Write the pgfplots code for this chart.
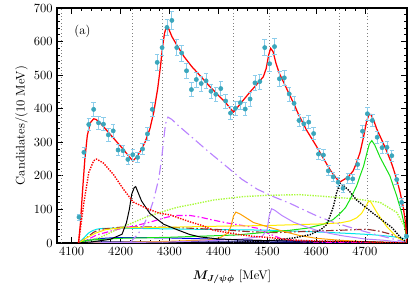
\documentclass[border=0pt]{standalone}
\usepackage{pgfplots}
\pgfplotsset{compat=1.18}
\usepackage{bm}
\definecolor{dataC}{RGB}{58,166,188}
\definecolor{errC}{RGB}{140,205,235}
\definecolor{cGreen}{RGB}{20,225,20}
\definecolor{cYellow}{RGB}{255,235,0}
\definecolor{cCyan}{RGB}{0,230,235}
\definecolor{cMag}{RGB}{255,0,255}
\definecolor{cChart}{RGB}{170,250,60}
\definecolor{cLav}{RGB}{185,130,255}
\definecolor{cOrange}{RGB}{255,160,0}
\definecolor{cBrown}{RGB}{150,45,45}
\definecolor{cBlue}{RGB}{0,0,235}
\definecolor{cNavy}{RGB}{0,0,110}
\begin{document}
\begin{tikzpicture}
\begin{axis}[
  scale only axis, width=280pt, height=188pt,
  xmin=4070, xmax=4786, ymin=0, ymax=700,
  axis line style={line width=1.1pt},
  tick align=inside,
  xtick={4100,4200,...,4700}, ytick={0,100,...,700},
  minor x tick num=4, minor y tick num=4,
  major tick length=4.5pt, minor tick length=2.2pt,
  tick style={black, line width=0.6pt},
  /pgf/number format/1000 sep={},
  scaled ticks=false,
  xlabel={$\bm{M_{J/\psi\phi}}$ [MeV]},
  ylabel={Candidates/(10 MeV)},
  xlabel style={yshift=-5pt},
  ylabel style={yshift=-2pt},
  clip=true,
]
% threshold lines
\addplot[gray, dotted, line width=0.7pt] coordinates {(4080,0) (4080,700)};
\addplot[gray, dotted, line width=0.7pt] coordinates {(4224,0) (4224,700)};
\addplot[gray, dotted, line width=0.7pt] coordinates {(4286,0) (4286,700)};
\addplot[gray, dotted, line width=0.7pt] coordinates {(4430,0) (4430,700)};
\addplot[gray, dotted, line width=0.7pt] coordinates {(4504,0) (4504,700)};
\addplot[gray, dotted, line width=0.7pt] coordinates {(4647,0) (4647,700)};
\addplot[gray, dotted, line width=0.7pt] coordinates {(4705,0) (4705,700)};
% navy
\addplot[cNavy, line width=0.8pt] coordinates {(4114,0) (4150,3) (4300,4) (4500,3) (4786,1)};
% blue
\addplot[cBlue, line width=0.8pt, smooth] coordinates {(4114,0) (4130,6) (4150,12) (4200,16) (4300,15) (4400,11) (4500,7) (4600,4) (4700,2) (4786,0)};
% cyan
\addplot[cCyan, line width=0.8pt, smooth] coordinates {(4114,0) (4125,15) (4135,30) (4145,38) (4160,43) (4200,44) (4300,42) (4400,40) (4500,38) (4600,33) (4700,26) (4750,20) (4786,12)};
% brown dash-dot
\addplot[cBrown, line width=0.9pt, dash pattern=on 6pt off 2pt on 1.2pt off 2pt] coordinates {(4114,0) (4130,15) (4145,32) (4160,41) (4200,47) (4250,48) (4300,47) (4400,40) (4472,33) (4520,31) (4588,35) (4650,38) (4704,41) (4730,35) (4751,27) (4770,15) (4786,0)};
% magenta dash-dot
\addplot[cMag, line width=0.9pt, dash pattern=on 5pt off 2pt on 1.2pt off 2pt] coordinates {(4114,0) (4130,8) (4151,24) (4192,40) (4226,50) (4260,62) (4290,75) (4310,82) (4342,82) (4363,77) (4390,68) (4417,60) (4458,50) (4480,44) (4500,30) (4530,12) (4570,4) (4650,1) (4786,0)};
% chartreuse dotted
\addplot[cChart, line width=1.1pt, densely dotted] coordinates {(4114,0) (4158,16) (4192,40) (4226,61) (4250,76) (4281,91) (4315,106) (4350,116) (4390,128) (4450,138) (4500,142) (4567,144) (4615,139) (4683,131) (4731,121) (4765,91) (4782,46) (4786,0)};
% green solid
\addplot[cGreen, line width=0.8pt] coordinates {(4114,0) (4130,8) (4200,14) (4300,17) (4400,22) (4438,24) (4499,32) (4547,38) (4581,44) (4615,56) (4635,70) (4649,88) (4660,105) (4670,131) (4683,170) (4690,200) (4697,228) (4704,268) (4709,295) (4714,305) (4720,292) (4731,255) (4751,200) (4765,140) (4775,90) (4782,45) (4786,0)};
% yellow
\addplot[cYellow, line width=0.8pt] coordinates {(4114,0) (4130,15) (4150,30) (4170,40) (4200,45) (4300,47) (4400,50) (4500,52) (4567,55) (4615,57) (4650,60) (4670,66) (4683,75) (4693,88) (4700,105) (4708,125) (4712,122) (4724,92) (4735,68) (4745,48) (4765,18) (4786,0)};
% orange
\addplot[cOrange, line width=0.8pt] coordinates {(4114,0) (4200,2) (4300,5) (4380,9) (4404,16) (4420,30) (4426,50) (4431,80) (4436,92) (4445,86) (4472,61) (4506,46) (4540,32) (4567,22) (4600,14) (4650,8) (4700,4) (4786,0)};
% lavender solid
\addplot[cLav, line width=0.8pt] coordinates {(4114,0) (4300,3) (4400,8) (4450,12) (4490,20) (4500,40) (4504,80) (4509,102) (4515,98) (4530,82) (4554,62) (4580,48) (4601,38) (4630,28) (4656,21) (4700,12) (4740,8) (4786,0)};
% lavender dash-dot
\addplot[cLav, line width=0.9pt, dash pattern=on 8pt off 3pt on 1.2pt off 3pt] coordinates {(4218,0) (4235,25) (4247,52) (4260,95) (4267,125) (4278,190) (4284,250) (4288,305) (4292,355) (4297,375) (4305,368) (4318,350) (4350,310) (4380,272) (4415,230) (4448,190) (4480,160) (4516,136) (4547,118) (4564,106) (4601,81) (4635,62) (4680,42) (4730,22) (4785,2)};
% black solid
\addplot[black, line width=0.8pt] coordinates {(4113,0) (4140,3) (4179,11) (4203,26) (4212,60) (4218,100) (4223,146) (4228,165) (4231,168) (4236,150) (4243,125) (4260,88) (4288,56) (4315,40) (4342,25) (4363,18) (4400,12) (4450,9) (4500,7) (4600,5) (4700,4) (4785,0)};
% black dotted
\addplot[black, line width=1.1pt, densely dotted] coordinates {(4400,0) (4450,3) (4500,6) (4554,15) (4588,25) (4610,40) (4622,55) (4635,106) (4642,150) (4649,178) (4655,172) (4666,158) (4683,128) (4700,108) (4717,88) (4737,66) (4755,46) (4772,18) (4785,2)};
% red dotted
\addplot[red, line width=1.1pt, densely dotted] coordinates {(4114,0) (4125,120) (4135,210) (4145,245) (4151,250) (4165,238) (4185,205) (4206,160) (4226,122) (4255,102) (4281,88) (4301,84) (4320,74) (4342,63) (4367,52) (4390,38) (4438,26) (4470,20) (4506,16) (4550,9) (4600,6) (4700,3) (4785,0)};
% total fit
\addplot[red, line width=1pt] coordinates {(4114,0) (4118,60) (4122,150) (4127,250) (4132,320) (4138,358) (4145,370) (4150,368) (4160,355) (4175,330) (4190,305) (4205,280) (4215,262) (4222,250) (4226,245) (4232,255) (4240,272) (4250,300) (4260,340) (4268,390) (4276,460) (4282,530) (4286,585) (4290,625) (4294,645) (4298,640) (4305,615) (4315,590) (4330,555) (4346,525) (4365,495) (4380,470) (4400,440) (4414,420) (4425,400) (4431,390) (4437,400) (4448,420) (4465,450) (4482,478) (4492,495) (4498,520) (4503,560) (4507,580) (4512,570) (4518,535) (4525,505) (4543,450) (4556,410) (4565,380) (4581,335) (4600,290) (4615,252) (4630,215) (4643,190) (4649,182) (4656,188) (4666,197) (4676,215) (4683,240) (4690,270) (4697,315) (4703,360) (4708,382) (4712,383) (4718,365) (4724,340) (4735,305) (4745,272) (4755,235) (4765,190) (4772,150) (4778,110) (4783,60) (4786,0)};
% data
\addplot[only marks, mark=*, mark size=1.7pt, mark options={fill=dataC, draw=dataC},
  error bars/.cd, y dir=both, y explicit,
  error bar style={color=errC, line width=0.6pt},
  error mark options={rotate=90, mark size=1.8pt, color=errC, line width=0.6pt}]
  table[x=x, y=y, y error=e] {
x y e
4115 77 9
4125 270 16
4135 353 19
4145 398 20
4155 358 19
4165 354 19
4175 322 18
4185 334 18
4195 277 17
4205 275 17
4215 249 16
4225 263 16
4235 255 16
4245 280 17
4255 325 18
4265 398 20
4275 538 23
4285 582 24
4295 642 25
4305 663 26
4315 582 24
4325 566 24
4335 513 23
4345 457 21
4355 487 22
4365 475 22
4375 483 22
4385 452 21
4395 443 21
4405 460 21
4415 423 21
4425 387 20
4435 401 20
4445 418 20
4455 399 20
4465 429 21
4475 477 22
4485 481 22
4495 582 24
4505 534 23
4515 585 24
4525 489 22
4535 492 22
4545 444 21
4555 416 20
4565 365 19
4575 355 19
4585 360 19
4595 326 18
4605 265 16
4615 262 16
4625 215 15
4635 197 14
4645 181 13
4655 163 13
4665 193 14
4675 191 14
4685 234 15
4695 333 18
4705 385 20
4715 365 19
4725 315 18
4735 284 17
4745 285 17
4755 260 16
4765 189 14
4775 121 11
4785 20 5
};
\node at (axis cs:4122,630) {(a)};
\coordinate (fSW) at (rel axis cs:0,0);
\coordinate (fNE) at (rel axis cs:1,1);
\end{axis}
\pgfresetboundingbox
\path[use as bounding box] ([shift={(-45.6pt,-36pt)}]fSW) rectangle ([shift={(3.2pt,6.4pt)}]fNE);
\end{tikzpicture}
\end{document}
